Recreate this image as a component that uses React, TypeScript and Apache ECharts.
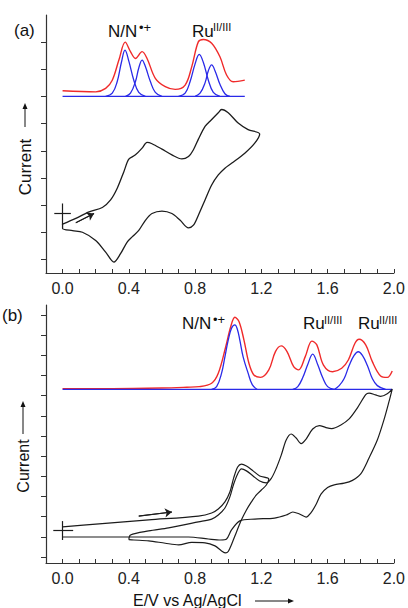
import React, { useEffect, useRef } from "react";
import * as echarts from "echarts";

// ---------- axes ----------
const xLabelValues = [0, 0.4, 0.8, 1.2, 1.6, 2.0];
const xTickValues = [0, 0.1, 0.2, 0.3, 0.4, 0.5, 0.6, 0.7, 0.8, 0.9, 1.0, 1.1, 1.2, 1.3, 1.4, 1.5, 1.6, 1.7, 1.8, 1.9, 2.0];
const yTicksA = [1, 2, 3, 4, 5, 6, 7, 8, 9];
const yTicksB = [1, 2, 3, 4, 5, 6, 7, 8, 9, 10, 11, 12, 13];

// ---------- panel (a) ----------
const cvA: number[][] = [
  [0.00, 2.30], [0.08, 2.51], [0.16, 2.75], [0.24, 2.91], [0.29, 3.19], [0.33, 3.62], [0.37, 4.23], [0.40, 4.69],
  [0.44, 4.85], [0.48, 5.10], [0.51, 5.31], [0.54, 5.26], [0.60, 5.06], [0.66, 4.85], [0.72, 4.70], [0.76, 4.79],
  [0.79, 5.04], [0.82, 5.43], [0.86, 5.90], [0.89, 6.09], [0.94, 6.40], [0.96, 6.52], [1.00, 6.40], [1.06, 6.02],
  [1.12, 5.78], [1.19, 5.62],
  [1.16, 5.28], [1.10, 4.91], [1.02, 4.54], [0.98, 4.36], [0.94, 4.11], [0.90, 3.74], [0.86, 3.19], [0.82, 2.63],
  [0.79, 2.26], [0.76, 2.16], [0.71, 2.44], [0.66, 2.69], [0.60, 2.78], [0.54, 2.69], [0.50, 2.44], [0.46, 2.07],
  [0.42, 1.83], [0.39, 1.64], [0.35, 1.21], [0.31, 0.90], [0.26, 1.27], [0.20, 1.70], [0.12, 2.00], [0.06, 2.06],
  [0.00, 2.14], [0.00, 2.30],
];
// start marker "+": horizontal arm and vertical arm
const crossAH = [[-0.05, 2.69], [0.05, 2.69]];
const crossAV = [[0, 3.06], [0, 2.26]];
const arrowA = [[0.08, 2.35], [0.19, 2.69]];

const redA = [
  [0.00, 7.21], [0.20, 7.17], [0.26, 7.30], [0.30, 7.60], [0.34, 8.34], [0.378, 9.00], [0.41, 8.65], [0.44, 8.40],
  [0.48, 8.65], [0.51, 8.40], [0.56, 7.67], [0.62, 7.36], [0.68, 7.26], [0.74, 7.42], [0.78, 8.10], [0.82, 9.02],
  [0.85, 9.10], [0.90, 8.96], [0.95, 8.46], [0.99, 7.79], [1.03, 7.54], [1.10, 7.60],
];
const baseA = [[0, 7], [1.1, 7]];
const blueA1 = [[0.26, 7.0], [0.30, 7.12], [0.33, 7.55], [0.355, 8.25], [0.377, 8.71], [0.40, 8.30], [0.43, 7.60], [0.46, 7.15], [0.50, 7.0]];
const blueA2 = [[0.38, 7.0], [0.41, 7.12], [0.44, 7.55], [0.46, 8.05], [0.48, 8.34], [0.50, 8.10], [0.53, 7.55], [0.56, 7.15], [0.60, 7.0]];
const blueA3 = [[0.70, 7.0], [0.74, 7.12], [0.77, 7.55], [0.80, 8.20], [0.825, 8.55], [0.85, 8.25], [0.88, 7.60], [0.91, 7.15], [0.95, 7.0]];
const blueA4 = [[0.80, 7.0], [0.83, 7.12], [0.86, 7.50], [0.88, 7.95], [0.90, 8.16], [0.92, 7.95], [0.95, 7.45], [0.98, 7.10], [1.01, 7.0]];

// ---------- panel (b) ----------
const cvB1 = [
  [0.00, 2.49], [0.22, 2.64], [0.52, 2.84], [0.82, 3.03], [0.90, 3.18], [0.94, 3.38], [0.98, 3.73], [1.01, 4.22],
  [1.033, 4.92], [1.057, 5.46], [1.08, 5.61], [1.11, 5.51], [1.15, 5.27], [1.19, 5.02], [1.245, 4.87],
  [1.23, 4.57], [1.20, 4.32], [1.17, 4.08], [1.14, 3.73], [1.11, 3.33], [1.08, 2.84], [1.05, 2.24], [1.02, 1.62],
  [1.00, 1.27], [0.985, 1.20], [0.96, 1.30], [0.92, 1.55], [0.86, 1.70], [0.78, 1.72], [0.70, 1.60], [0.62, 1.68],
  [0.52, 1.80], [0.43, 1.84], [0.40, 1.86],
];
const cvB2 = [
  [0.40, 1.86], [0.41, 2.09], [0.52, 2.29], [0.64, 2.44], [0.82, 2.74], [0.90, 2.88], [0.94, 3.08], [0.98, 3.43],
  [1.01, 3.98], [1.033, 4.62], [1.057, 5.12], [1.08, 5.37], [1.11, 5.27], [1.15, 5.02], [1.19, 4.77], [1.23, 4.68],
  [1.26, 4.90], [1.29, 5.40], [1.32, 6.05], [1.35, 6.80], [1.38, 7.10], [1.41, 6.90], [1.44, 6.62], [1.47, 6.85],
  [1.51, 7.35], [1.55, 7.52], [1.59, 7.42], [1.625, 7.37], [1.68, 7.55], [1.73, 7.85], [1.78, 8.40], [1.83, 9.05],
  [1.85, 9.13], [1.89, 9.04], [1.92, 8.97], [1.96, 9.10], [1.99, 9.33],
  [1.97, 8.69], [1.94, 7.80], [1.90, 6.80], [1.85, 5.91], [1.80, 5.12], [1.75, 4.80], [1.70, 4.66], [1.64, 4.58],
  [1.60, 4.45], [1.56, 4.12], [1.53, 3.60], [1.50, 3.20], [1.47, 2.98], [1.43, 3.13], [1.39, 3.23], [1.35, 3.08],
  [1.28, 2.93], [1.16, 2.88], [1.07, 2.79], [1.02, 2.34], [0.99, 1.89], [0.955, 1.84], [0.88, 1.89], [0.76, 1.99],
  [0.52, 1.99], [0.22, 1.99], [0.00, 1.99],
];
const crossBH = [[-0.056, 2.34], [0.064, 2.34]];
const crossBV = [[0, 2.78], [0, 1.84]];
const arrowB = [[0.46, 3.03], [0.66, 3.23]];

const redB = [
  [0.00, 9.35], [0.30, 9.35], [0.60, 9.38], [0.75, 9.42], [0.825, 9.45], [0.90, 9.62], [0.94, 10.11], [0.985, 11.43],
  [1.015, 12.42], [1.04, 12.89], [1.065, 12.68], [1.095, 11.76], [1.125, 10.61], [1.155, 10.03], [1.195, 9.91],
  [1.245, 10.28], [1.285, 11.19], [1.32, 11.47], [1.355, 11.19], [1.395, 10.44], [1.425, 10.28], [1.465, 10.94],
  [1.505, 11.71], [1.535, 11.52], [1.575, 10.52], [1.63, 10.19], [1.685, 10.36], [1.725, 10.77], [1.765, 11.60],
  [1.79, 11.80], [1.83, 11.52], [1.87, 10.69], [1.92, 9.98], [1.96, 9.91], [1.99, 10.23],
];
const baseB = [[0, 9.31], [1.99, 9.31]];
const blueB1 = [[0.90, 9.31], [0.93, 9.45], [0.96, 10.12], [0.98, 10.93], [1.00, 11.76], [1.02, 12.35], [1.04, 12.51], [1.055, 12.30], [1.07, 11.76], [1.09, 10.93], [1.12, 10.12], [1.145, 9.55], [1.175, 9.31]];
const blueB2 = [[1.39, 9.31], [1.42, 9.45], [1.45, 9.90], [1.48, 10.55], [1.51, 11.06], [1.54, 10.55], [1.57, 9.90], [1.60, 9.45], [1.64, 9.31]];
const blueB3 = [[1.64, 9.31], [1.67, 9.50], [1.70, 9.85], [1.73, 10.50], [1.76, 11.00], [1.785, 11.18], [1.81, 11.00], [1.84, 10.50], [1.87, 9.85], [1.90, 9.50], [1.95, 9.31]];

const FONT = "'Liberation Sans', Arial, sans-serif";
const BLACK = "#1c1c1c";
const RED = "#f02a2a";
const BLUE = "#2a2ae8";

function line(data: number[][], color: string, idx: number, smooth: number | boolean = 0.35, width = 1.3, extra: any = {}) {
  return {
    type: "line", data, xAxisIndex: idx, yAxisIndex: idx, symbol: "none", showSymbol: false,
    smooth, silent: true, lineStyle: { color, width }, ...extra,
  };
}

// marker series: the "+" arms drawn as plain segments, and the sweep arrow with an arrow head
function markerSeries(h: number[][], v: number[][], arrow: number[][], idx: number) {
  return {
    type: "line", data: arrow, xAxisIndex: idx, yAxisIndex: idx, symbol: "none", showSymbol: false,
    silent: true, lineStyle: { color: BLACK, width: 1 },
    markLine: {
      silent: true, animation: false, symbol: ["none", "none"], symbolSize: 7,
      lineStyle: { type: "solid", color: BLACK, width: 1.2 }, label: { show: false },
      data: [
        [{ coord: h[0] }, { coord: h[1] }],
        [{ coord: v[0] }, { coord: v[1] }],
        [{ coord: arrow[0] }, { coord: arrow[1], symbol: "arrow", symbolSize: 7 }],
      ],
    },
  };
}

function xAxis(idx: number) {
  return {
    type: "value", gridIndex: idx, min: -0.1, max: 2.0,
    axisLine: { show: true, onZero: false, lineStyle: { color: "#333", width: 1.2 } },
    axisTick: { show: true, inside: true, length: 4, customValues: xTickValues, lineStyle: { color: "#333" } },
    axisLabel: { show: true, customValues: xLabelValues, formatter: (v: number) => v.toFixed(1), fontSize: 16, fontFamily: FONT, color: "#222", margin: 7 },
    splitLine: { show: false },
  };
}
function yAxis(idx: number, min: number, max: number, ticks: number[]) {
  return {
    type: "value", gridIndex: idx, min, max,
    axisLine: { show: true, onZero: false, lineStyle: { color: "#333", width: 1.2 } },
    axisTick: { show: true, inside: false, length: 5, customValues: ticks, lineStyle: { color: "#333" } },
    axisLabel: { show: false },
    splitLine: { show: false },
  };
}

function txt(text: string, x: number, y: number, size: number, extra: any = {}) {
  return {
    type: "text", x, y, silent: true,
    style: { text, fontSize: size, fontFamily: FONT, fill: "#111", align: "left", verticalAlign: "middle", ...extra },
  };
}
function vArrow(x: number, y1: number, y2: number) {
  return [
    { type: "line", silent: true, shape: { x1: x, y1, x2: x, y2: y2 + 4 }, style: { stroke: "#111", lineWidth: 1 } },
    { type: "polygon", silent: true, shape: { points: [[x, y2], [x - 2.5, y2 + 6], [x + 2.5, y2 + 6]] }, style: { fill: "#111" } },
  ];
}

export default function App() {
  const ref = useRef<HTMLDivElement>(null);
  useEffect(() => {
    if (!ref.current) return;
    const chart = echarts.init(ref.current, undefined, { renderer: "svg" });
    const option: any = {
      animation: false,
      backgroundColor: "#fff",
      grid: [
        { left: 46, top: 15, width: 348, height: 258 },
        { left: 46, top: 305, width: 348, height: 258 },
      ],
      xAxis: [xAxis(0), xAxis(1)],
      yAxis: [yAxis(0, 0.5, 10, yTicksA), yAxis(1, 0.7, 13.5, yTicksB)],
      series: [
        line(redA, RED, 0, 0.35, 1.4),
        line(baseA, BLUE, 0, false, 1.3),
        line(blueA1, BLUE, 0, 0.4, 1.3),
        line(blueA2, BLUE, 0, 0.4, 1.3),
        line(blueA3, BLUE, 0, 0.4, 1.3),
        line(blueA4, BLUE, 0, 0.4, 1.3),
        line(cvA, BLACK, 0, 0.3, 1.3),
        markerSeries(crossAH, crossAV, arrowA, 0),

        line(redB, RED, 1, 0.35, 1.4),
        line(baseB, BLUE, 1, false, 1.3),
        line(blueB1, BLUE, 1, 0.4, 1.3),
        line(blueB2, BLUE, 1, 0.4, 1.3),
        line(blueB3, BLUE, 1, 0.4, 1.3),
        line(cvB1, BLACK, 1, 0.3, 1.2),
        line(cvB2, BLACK, 1, 0.3, 1.2),
        markerSeries(crossBH, crossBV, arrowB, 1),
      ],
      graphic: [
        txt("(a)", 14, 30, 17),
        txt("N/N", 108, 31.5, 17),
        txt("•+", 139, 27, 13),
        txt("Ru", 192, 31.5, 17),
        txt("II/III", 213, 27, 11),
        txt("(b)", 2, 315, 17),
        txt("N/N", 182, 323.5, 17),
        txt("•+", 213, 319, 13),
        txt("Ru", 303, 323.5, 17),
        txt("II/III", 324, 319.5, 11),
        txt("Ru", 358, 323.5, 17),
        txt("II/III", 379, 319.5, 11),
        { ...txt("Current", 25, 167, 17, { align: "center" }), rotation: Math.PI / 2 },
        ...vArrow(25, 127, 103),
        { ...txt("Current", 23, 466, 16, { align: "center" }), rotation: Math.PI / 2 },
        ...vArrow(23, 434, 401),
        txt("E/V vs Ag/AgCl", 133, 600, 16),
        { type: "line", silent: true, shape: { x1: 255, y1: 601, x2: 289, y2: 601 }, style: { stroke: "#111", lineWidth: 1 } },
        { type: "polygon", silent: true, shape: { points: [[294, 601], [288, 598.5], [288, 603.5]] }, style: { fill: "#111" } },
      ],
    };
    chart.setOption(option);
    return () => chart.dispose();
  }, []);
  return <div ref={ref} style={{ position: "fixed", left: 0, top: 0, width: 408, height: 608 }} />;
}
